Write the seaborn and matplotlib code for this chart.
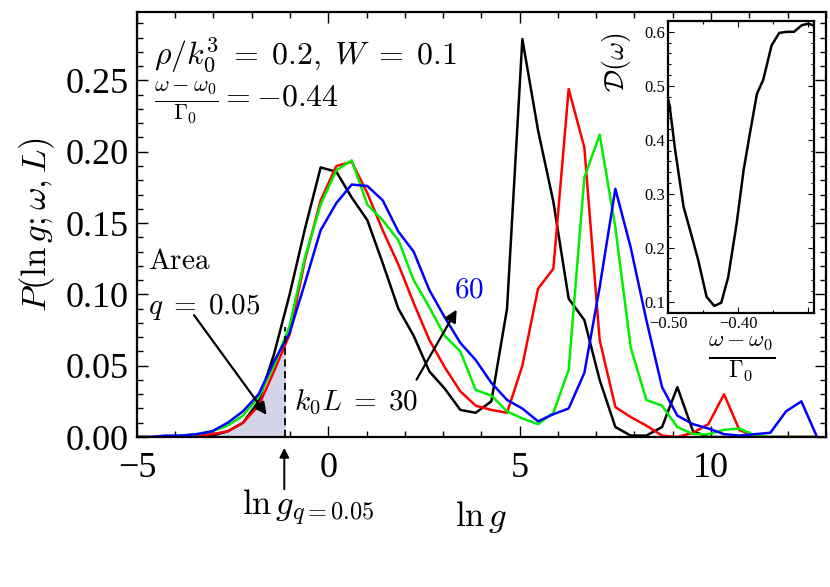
import numpy as np
import pandas as pd
import seaborn as sns
import matplotlib
matplotlib.use("Agg")
import matplotlib.pyplot as plt
from matplotlib.ticker import MultipleLocator, FixedLocator

# ---- data ----
ln_g = [-5.06, -4.66, -4.25, -3.85, -3.44, -3.04, -2.63, -2.23, -1.82, -1.42, -1.01,
        -0.61, -0.20, 0.21, 0.61, 1.02, 1.42, 1.83, 2.23, 2.64, 3.04, 3.45,
        3.85, 4.26, 4.67, 5.07, 5.48, 5.88, 6.28, 6.69, 7.09, 7.50, 7.90,
        8.31, 8.72, 9.12, 9.53, 9.93, 10.34, 10.74, 11.15, 11.55, 11.96, 12.36, 12.77]

p_L30 = [0, 0, 0, 0, 0, 0.001, 0.004, 0.010, 0.025, 0.058, 0.100,
         0.146, 0.189, 0.186, 0.168, 0.152, 0.122, 0.090, 0.071, 0.046, 0.034, 0.019,
         0.017, 0.025, 0.090, 0.279, 0.215, 0.165, 0.097, 0.082, 0.040, 0.007, 0.001,
         0.001, 0.007, 0.035, 0.004, 0, 0, 0, 0, 0, 0, 0, 0]
p_L40 = [0, 0, 0, 0, 0.001, 0.002, 0.004, 0.010, 0.022, 0.046, 0.072,
         0.124, 0.166, 0.190, 0.193, 0.171, 0.145, 0.121, 0.094, 0.068, 0.049, 0.032,
         0.022, 0.019, 0.017, 0.050, 0.104, 0.118, 0.244, 0.203, 0.068, 0.021, 0.014,
         0.008, 0.001, 0.0, 0.003, 0.009, 0.030, 0.005, 0, 0, 0, 0, 0]
p_L50 = [0, 0, 0, 0.001, 0.002, 0.004, 0.008, 0.015, 0.028, 0.050, 0.078,
         0.126, 0.163, 0.187, 0.194, 0.163, 0.152, 0.138, 0.110, 0.091, 0.071, 0.060,
         0.033, 0.029, 0.018, 0.013, 0.009, 0.017, 0.047, 0.182, 0.212, 0.147, 0.063,
         0.026, 0.022, 0.007, 0.002, 0.002, 0.005, 0.006, 0.001, 0, 0, 0, 0]
p_L60 = [0, 0, 0.001, 0.001, 0.002, 0.004, 0.010, 0.018, 0.030, 0.053, 0.073,
         0.108, 0.145, 0.164, 0.177, 0.176, 0.166, 0.144, 0.130, 0.103, 0.084, 0.066,
         0.054, 0.038, 0.026, 0.020, 0.011, 0.016, 0.020, 0.045, 0.105, 0.174, 0.133,
         0.082, 0.035, 0.015, 0.009, 0.006, 0.002, 0.001, 0.002, 0.003, 0.018, 0.025, 0.0]
sizes = ["30", "40", "50", "60"]
colors = ["black", "#ff0000", "#00ee00", "#0000ff"]
ln_g_q = -1.12

# inset: D(omega)
w_rel = [-0.500, -0.498, -0.490, -0.478, -0.466, -0.457, -0.445, -0.434, -0.424, -0.414,
         -0.402, -0.392, -0.383, -0.373, -0.364, -0.352, -0.341, -0.330, -0.320,
         -0.309, -0.300, -0.292]
d_w = [0.475, 0.464, 0.381, 0.276, 0.220, 0.177, 0.109, 0.092, 0.098, 0.146,
       0.245, 0.344, 0.412, 0.485, 0.511, 0.575, 0.598, 0.600, 0.600,
       0.612, 0.615, 0.612]

df = pd.DataFrame({
    "ln_g": ln_g * 4,
    "P": p_L30 + p_L40 + p_L50 + p_L60,
    "L": [s for s in sizes for _ in ln_g],
})
df_in = pd.DataFrame({"w": w_rel, "D": d_w})

sns.set_theme(style="ticks")
plt.rcParams["font.family"] = ["Liberation Serif", "DejaVu Serif"]
plt.rcParams["mathtext.fontset"] = "cm"
plt.rcParams["axes.linewidth"] = 1.6
plt.rcParams["axes.edgecolor"] = "black"
plt.rcParams["text.color"] = "black"
plt.rcParams["axes.labelcolor"] = "black"
plt.rcParams["xtick.color"] = "black"
plt.rcParams["ytick.color"] = "black"

fig = plt.figure(figsize=(8.3, 5.87), dpi=100)
ax = fig.add_axes([0.165, 0.2555, 0.83, 0.7241])

# shaded area below ln g_q
xf = np.linspace(-5, ln_g_q, 200)
low = np.minimum.reduce([np.interp(xf, ln_g, p) for p in (p_L30, p_L40, p_L50, p_L60)])
ax.fill_between(xf, 0, low, color="#d4d4e8", lw=0)

sns.lineplot(data=df, x="ln_g", y="P", hue="L", palette=colors, estimator=None,
             linewidth=1.8, legend=False, ax=ax)

ax.plot([ln_g_q, ln_g_q], [0, 0.077], color="black", ls=(0, (4, 2.5)), lw=1.3)

ax.set_xlim(-5, 13)
ax.set_ylim(0, 0.298)
ax.xaxis.set_major_locator(MultipleLocator(5))
ax.xaxis.set_minor_locator(MultipleLocator(1))
ax.yaxis.set_major_locator(MultipleLocator(0.05))
ax.yaxis.set_minor_locator(MultipleLocator(0.01))
ax.yaxis.set_major_formatter(lambda v, pos: f"{v:.2f}")
ax.tick_params(which="both", direction="in", top=True, right=True, width=1)
ax.tick_params(which="major", length=8, labelsize=26, pad=6)
ax.tick_params(axis="x", which="major", pad=11)
ax.tick_params(which="minor", length=4)

ax.set_xlabel(r"$\ln g$", fontsize=25, labelpad=10)
ax.set_ylabel(r"$P(\ln g ; \omega, L)$", fontsize=25, labelpad=6)

ax.text(-4.55, 0.268, r"$\rho/k_0^3\;=\;0.2,\; W\;=\;0.1$", fontsize=23, va="center")
ax.text(-4.55, 0.2345, r"$\frac{\omega-\omega_0}{\Gamma_0} = -0.44$", fontsize=23, va="center")
ax.text(-4.7, 0.1225, r"$\mathrm{Area}$", fontsize=21, va="center")
ax.text(-4.7, 0.0915, r"$q\;=\;0.05$", fontsize=21, va="center")
ax.annotate("", xy=(-1.57, 0.014), xytext=(-3.55, 0.087),
            arrowprops=dict(arrowstyle="-|>", color="black", lw=1.6, mutation_scale=18))
ax.text(0.73, 0.0245, r"$k_0 L\;=\;30$", fontsize=21, ha="center", va="center")
ax.annotate("", xy=(3.39, 0.091), xytext=(2.27, 0.0386),
            arrowprops=dict(arrowstyle="-|>", color="black", lw=1.6, mutation_scale=18))
ax.text(3.68, 0.103, r"$60$", fontsize=21, color="#0000ff", ha="center", va="center")

ax.annotate("", xy=(-1.15, -0.0056), xytext=(-1.15, -0.0386), annotation_clip=False,
            arrowprops=dict(arrowstyle="-|>", color="black", lw=1.4, mutation_scale=14))
ax.text(-0.52, -0.0495, r"$\ln g_{q=0.05}$", fontsize=25, ha="center", va="center",
        clip_on=False)

# inset
axi = fig.add_axes([0.805, 0.4668, 0.176, 0.4974])
sns.lineplot(data=df_in, x="w", y="D", color="black", linewidth=1.8, estimator=None, ax=axi)
axi.set_xlim(-0.50, -0.291)
axi.set_ylim(0.079, 0.62)
axi.xaxis.set_major_locator(FixedLocator([-0.50, -0.40, -0.30]))
axi.xaxis.set_major_formatter(lambda v, pos: {0: "\u22120.50", 1: "\u22120.40"}.get(pos, ""))
axi.xaxis.set_minor_locator(MultipleLocator(0.05))
axi.yaxis.set_major_locator(MultipleLocator(0.1))
axi.yaxis.set_minor_locator(MultipleLocator(0.02))
axi.tick_params(which="both", direction="in", top=True, right=True, width=0.8)
axi.tick_params(which="major", length=4, labelsize=12, pad=2)
axi.tick_params(which="minor", length=2)
axi.set_xlabel(r"$\frac{\omega-\omega_0}{\Gamma_0}$", fontsize=24, labelpad=2)
axi.set_ylabel(r"$\mathcal{D}(\omega)$", fontsize=20)
axi.yaxis.set_label_coords(-0.24, 0.86)

fig.savefig("out.png", dpi=100)
